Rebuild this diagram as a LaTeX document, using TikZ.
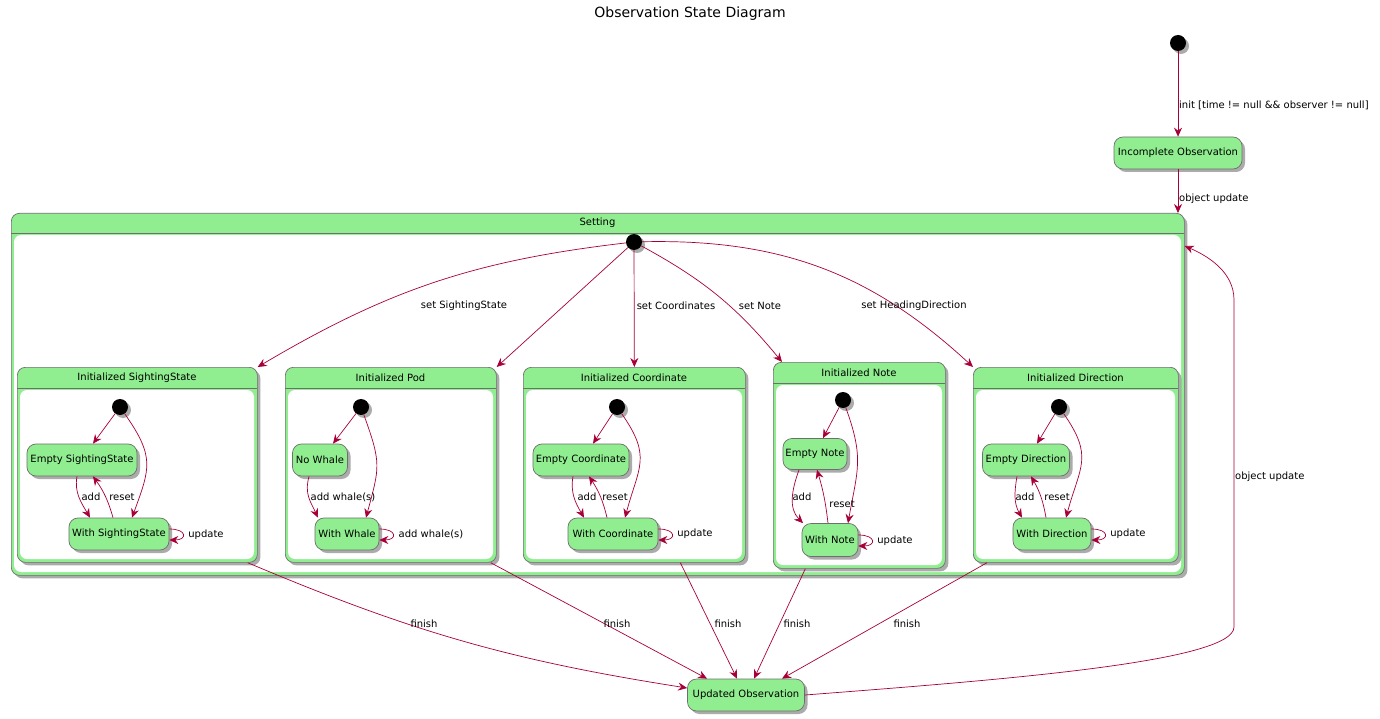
\documentclass[tikz,border=0pt]{standalone}
\usepackage{fontspec}
\setmainfont{DejaVu Sans}
\usetikzlibrary{arrows.meta,shadows}
\definecolor{stgreen}{HTML}{90EE90}
\definecolor{bordergray}{RGB}{110,110,110}
\definecolor{arrowred}{HTML}{A80036}
\newcommand{\lblfont}{\fontsize{10}{12}\selectfont}
% composite state: name, x1, y1, x2, y2 (y measured downwards), header height, title
\newcommand{\composite}[7]{%
  \node[compframe, anchor=north west, minimum width={(#4-#2)*1pt}, minimum height={(#5-#3)*1pt}] (#1) at (#2,-#3) {};
  \fill[white, rounded corners=7pt] (#2+3,-#3-#6-2) rectangle (#4-3,-#5+3);
  \draw[draw=bordergray, line width=0.7pt] (#2,-#3-#6) -- (#4,-#3-#6);
  \node[lbl] (#1-title) at ({(#2+#4)/2},{-#3-#6/2}) {#7};
}
\begin{document}
\begin{tikzpicture}[x=1pt,y=1pt,
  shadowed/.style={drop shadow={shadow xshift=3pt, shadow yshift=-3pt, fill=black, opacity=0.33}},
  stbox/.style={draw=bordergray, fill=stgreen, rounded corners=9pt, minimum height=32pt,
    inner sep=0pt, font=\lblfont, line width=0.7pt, shadowed},
  initial/.style={circle, fill=black, minimum size=16pt, inner sep=0pt, shadowed},
  compframe/.style={draw=bordergray, fill=stgreen, rounded corners=8pt, inner sep=0pt,
    line width=0.7pt, shadowed},
  arr/.style={draw=arrowred, line width=0.7pt, -{Stealth[length=9pt,width=8pt,inset=3pt]}},
  lbl/.style={font=\lblfont, inner sep=1pt, text=black}]
\useasboundingbox (0,0) rectangle (1380,-719);

\node[font=\fontsize{14}{16}\selectfont] (title) at (690,-14) {Observation State Diagram};

% entry into the observation
\node[initial] (start) at (1178,-43) {};
\node[stbox, minimum width=128pt] (inc) at (1178,-153) {Incomplete Observation};

% the Setting super state and its sub states
\composite{set}{11}{213}{1184}{575}{20}{Setting}
\node[initial] (set-i) at (634,-242) {};
\composite{ss}{17}{367}{257}{562}{21}{Initialized SightingState}
\composite{pod}{285}{367}{496}{562}{21}{Initialized Pod}
\composite{crd}{523}{367}{745}{562}{21}{Initialized Coordinate}
\composite{note}{773}{362}{945}{568}{21}{Initialized Note}
\composite{dir}{973}{367}{1178}{562}{21}{Initialized Direction}

\node[stbox, minimum width=117pt] (upd) at (746,-695) {Updated Observation};

% top transitions
\draw[arr] (start) -- (inc);
\node[lbl, anchor=west] (init-l) at (1178,-105) {init [time != null \&\& observer != null]};
\draw[arr] (inc) -- (set.north -| inc);
\node[lbl, anchor=west] (obj-l) at (1178,-199) {object update};

% Setting entry transitions
\draw[arr] (set-i) to[bend right=12] (ss.north east);
\draw[arr] (set-i) -- (pod.north east);
\draw[arr] (set-i) -- (crd.north);
\draw[arr] (set-i) to[bend left=11] ([xshift=9pt]note.north west);
\draw[arr] (set-i) to[bend left=22] (dir.north west);
\node[lbl] (l-ss) at (464,-306) {set SightingState};
\node[lbl] (l-crd) at (676,-306) {set Coordinates};
\node[lbl] (l-note) at (760,-306) {set Note};
\node[lbl] (l-dir) at (914,-306) {set HeadingDirection};

% Initialized SightingState
\node[initial] (ss-i) at (120,-407) {};
\node[stbox, minimum width=110pt] (ss-e) at (82,-460) {Empty SightingState};
\node[stbox, minimum width=100pt] (ss-w) at (119,-534) {With SightingState};
\draw[arr] (ss-i) -- ([xshift=11pt]ss-e.north);
\draw[arr] (ss-i) to[out=-55,in=70,looseness=1.3] ([xshift=13pt]ss-w.north);
\draw[arr] ([xshift=-5pt]ss-e.south) to[out=-100,in=120] ([xshift=-29pt]ss-w.north);
\draw[arr] ([xshift=-6pt]ss-w.north) to[bend right=10] ([xshift=11pt]ss-e.south);
\draw[arr] ([yshift=5pt]ss-w.east) .. controls +(18,0) and +(18,0) .. ([yshift=-6pt]ss-w.east);
\node[lbl] (ss-add) at (91,-497) {add};
\node[lbl] (ss-reset) at (122,-497) {reset};
\node[lbl] (ss-upd) at (206,-535) {update};

% Initialized Pod
\node[initial] (pod-i) at (361,-407) {};
\node[stbox, minimum width=55pt] (pod-n) at (320,-460) {No Whale};
\node[stbox, minimum width=64pt] (pod-w) at (347,-534) {With Whale};
\draw[arr] (pod-i) -- ([xshift=13pt]pod-n.north);
\draw[arr] (pod-i) to[out=-70,in=75,looseness=1.3] ([xshift=19pt]pod-w.north);
\draw[arr] ([xshift=-11pt]pod-n.south) to[out=-105,in=115,looseness=1.1] ([xshift=-29pt]pod-w.north);
\draw[arr] ([yshift=5pt]pod-w.east) .. controls +(18,0) and +(18,0) .. ([yshift=-6pt]pod-w.east);
\node[lbl] (pod-add) at (343,-497) {add whale(s)};
\node[lbl] (pod-add2) at (431,-534) {add whale(s)};

% Initialized Coordinate
\node[initial] (crd-i) at (617,-407) {};
\node[stbox, minimum width=96pt] (crd-e) at (581,-460) {Empty Coordinate};
\node[stbox, minimum width=90pt] (crd-w) at (613,-534) {With Coordinate};
\draw[arr] (crd-i) -- ([xshift=12pt]crd-e.north);
\draw[arr] (crd-i) to[out=-55,in=75,looseness=1.3] ([xshift=12pt]crd-w.north);
\draw[arr] ([xshift=-8pt]crd-e.south) to[out=-100,in=120] ([xshift=-29pt]crd-w.north);
\draw[arr] ([xshift=-6pt]crd-w.north) to[bend right=10] ([xshift=8pt]crd-e.south);
\draw[arr] ([yshift=5pt]crd-w.east) .. controls +(18,0) and +(18,0) .. ([yshift=-6pt]crd-w.east);
\node[lbl] (crd-add) at (587,-497) {add};
\node[lbl] (crd-reset) at (615,-497) {reset};
\node[lbl] (crd-upd) at (695,-534) {update};

% Initialized Note
\node[initial] (note-i) at (843,-400) {};
\node[stbox, minimum width=64pt, minimum height=31pt] (note-e) at (815,-454) {Empty Note};
\node[stbox, minimum width=56pt, minimum height=33pt] (note-w) at (830,-540) {With Note};
\draw[arr] (note-i) -- ([xshift=8pt]note-e.north);
\draw[arr] (note-i) to[out=-70,in=80,looseness=1.2] ([xshift=18pt]note-w.north);
\draw[arr] ([xshift=-16pt]note-e.south) to[out=-110,in=135] ([xshift=-27pt]note-w.north);
\draw[arr] ([xshift=-2pt]note-w.north) to[bend right=5] ([xshift=2pt]note-e.south);
\draw[arr] ([yshift=5pt]note-w.east) .. controls +(18,0) and +(18,0) .. ([yshift=-6pt]note-w.east);
\node[lbl] (note-add) at (802,-497) {add};
\node[lbl] (note-reset) at (842,-504) {reset};
\node[lbl] (note-upd) at (895,-541) {update};

% Initialized Direction
\node[initial] (dir-i) at (1059,-407) {};
\node[stbox, minimum width=87pt] (dir-e) at (1026,-460) {Empty Direction};
\node[stbox, minimum width=78pt] (dir-w) at (1052,-534) {With Direction};
\draw[arr] (dir-i) -- ([xshift=11pt]dir-e.north);
\draw[arr] (dir-i) to[out=-55,in=75,looseness=1.3] ([xshift=14pt]dir-w.north);
\draw[arr] ([xshift=-9pt]dir-e.south) to[out=-100,in=120] ([xshift=-30pt]dir-w.north);
\draw[arr] ([xshift=-6pt]dir-w.north) to[bend right=10] ([xshift=5pt]dir-e.south);
\draw[arr] ([yshift=5pt]dir-w.east) .. controls +(18,0) and +(18,0) .. ([yshift=-6pt]dir-w.east);
\node[lbl] (dir-add) at (1025,-497) {add};
\node[lbl] (dir-reset) at (1057,-497) {reset};
\node[lbl] (dir-upd) at (1128,-534) {update};

% finishing transitions
\draw[arr] ([xshift=-10pt]ss.south east) to[bend right=7] ([yshift=7pt]upd.west);
\draw[arr] ([xshift=-6pt]pod.south east) -- ([xshift=-39pt]upd.north);
\draw[arr] ([xshift=46pt]crd.south) -- ([xshift=-9pt]upd.north);
\draw[arr] ([xshift=-54pt]note.south) -- ([xshift=8pt]upd.north);
\draw[arr] ([xshift=14pt]dir.south west) -- ([xshift=36pt]upd.north);
\node[lbl] (f-ss) at (424,-624) {finish};
\node[lbl] (f-pod) at (617,-624) {finish};
\node[lbl] (f-crd) at (728,-624) {finish};
\node[lbl] (f-note) at (797,-624) {finish};
\node[lbl] (f-dir) at (907,-624) {finish};

% back into Setting
\draw[arr] (upd.east) .. controls (1000,-680) and (1234,-662) .. (1234,-627)
  -- (1234,-300) .. controls (1234,-272) and (1208,-256) .. ([yshift=-33pt]set.north east);
\node[lbl, anchor=west] (obj-l2) at (1234,-477) {object update};
\end{tikzpicture}
\end{document}
